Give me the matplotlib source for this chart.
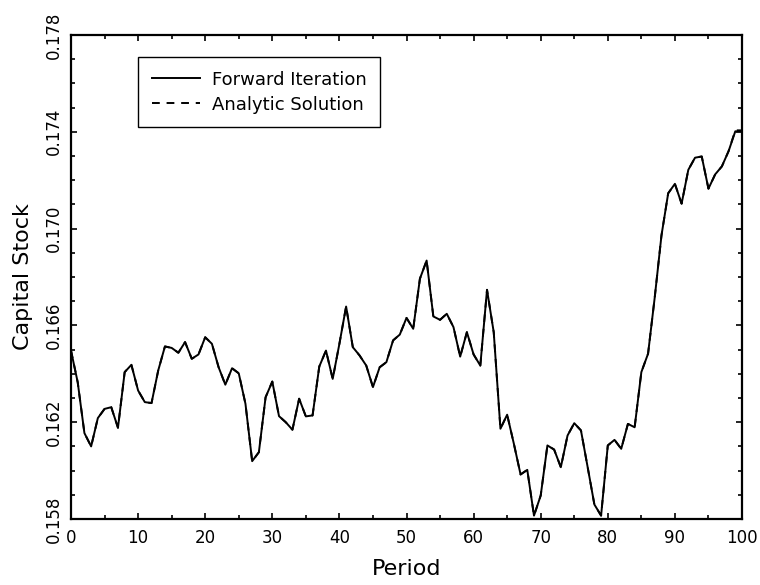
import numpy as np
import matplotlib
matplotlib.use("Agg")
import matplotlib.pyplot as plt
from matplotlib.ticker import MultipleLocator

# Capital stock path, periods 0..100
periods = np.arange(0, 101)
forward_iteration = [
    0.16496, 0.16365, 0.16155, 0.16100, 0.16217, 0.16255, 0.16262, 0.16177, 0.16407, 0.16437,
    0.16331, 0.16283, 0.16279, 0.16414, 0.16513, 0.16507, 0.16487, 0.16531, 0.16462, 0.16480,
    0.16551, 0.16524, 0.16427, 0.16355, 0.16423, 0.16402, 0.16276, 0.16039, 0.16076, 0.16303,
    0.16368, 0.16225, 0.16200, 0.16169, 0.16297, 0.16224, 0.16228, 0.16430, 0.16496, 0.16379,
    0.16524, 0.16678, 0.16510, 0.16476, 0.16434, 0.16345, 0.16427, 0.16448, 0.16538, 0.16562,
    0.16631, 0.16586, 0.16793, 0.16868, 0.16637, 0.16623, 0.16648, 0.16593, 0.16471, 0.16572,
    0.16480, 0.16434, 0.16747, 0.16572, 0.16173, 0.16231, 0.16111, 0.15984, 0.16003, 0.15814,
    0.15897, 0.16104, 0.16087, 0.16014, 0.16145, 0.16196, 0.16166, 0.16014, 0.15860, 0.15814,
    0.16104, 0.16127, 0.16090, 0.16193, 0.16179, 0.16407, 0.16483, 0.16717, 0.16972, 0.17146,
    0.17185, 0.17103, 0.17243, 0.17293, 0.17298, 0.17165, 0.17224, 0.17257, 0.17320, 0.17402,
    0.17402,
]
analytic_solution = [
    0.16496, 0.16365, 0.16155, 0.16100, 0.16217, 0.16255, 0.16262, 0.16177, 0.16407, 0.16437,
    0.16331, 0.16283, 0.16279, 0.16414, 0.16513, 0.16507, 0.16487, 0.16531, 0.16462, 0.16480,
    0.16551, 0.16524, 0.16427, 0.16355, 0.16423, 0.16402, 0.16276, 0.16039, 0.16076, 0.16303,
    0.16368, 0.16225, 0.16200, 0.16169, 0.16297, 0.16224, 0.16228, 0.16430, 0.16496, 0.16379,
    0.16524, 0.16678, 0.16510, 0.16476, 0.16434, 0.16345, 0.16427, 0.16448, 0.16538, 0.16562,
    0.16631, 0.16586, 0.16793, 0.16868, 0.16637, 0.16623, 0.16648, 0.16593, 0.16471, 0.16572,
    0.16480, 0.16434, 0.16747, 0.16572, 0.16173, 0.16231, 0.16111, 0.15984, 0.16003, 0.15814,
    0.15897, 0.16104, 0.16087, 0.16014, 0.16145, 0.16196, 0.16166, 0.16014, 0.15860, 0.15814,
    0.16104, 0.16127, 0.16090, 0.16193, 0.16179, 0.16407, 0.16483, 0.16717, 0.16972, 0.17146,
    0.17185, 0.17103, 0.17243, 0.17293, 0.17298, 0.17165, 0.17224, 0.17257, 0.17320, 0.17406,
    0.17406,
]

y_ticks = [0.158, 0.162, 0.166, 0.170, 0.174, 0.178]
y_tick_labels = ['0.158', '0.162', '0.166', '0.170', '0.174', '0.178']

plt.rcParams['font.family'] = ['DejaVu Sans']

fig = plt.figure(figsize=(7.6, 5.85), dpi=100)
ax = fig.add_axes([71 / 760, 1 - 519 / 585, 671 / 760, 484 / 585])

ax.plot(periods, forward_iteration, color='black', linewidth=1.4, label='Forward Iteration')
ax.plot(periods, analytic_solution, color='black', linewidth=1.4, dashes=(4, 3.5),
        label='Analytic Solution')

ax.set_xlim(0, 100)
ax.set_ylim(0.158, 0.178)
ax.xaxis.set_major_locator(MultipleLocator(10))
ax.xaxis.set_minor_locator(MultipleLocator(5))
ax.set_yticks(y_ticks)
ax.set_yticklabels(y_tick_labels, rotation=90, va='center')
ax.yaxis.set_minor_locator(MultipleLocator(0.001))

for s in ax.spines.values():
    s.set_linewidth(1.6)
ax.tick_params(which='both', direction='in', top=True, right=True, width=1.2, labelsize=12)
ax.tick_params(which='major', length=4.5)
ax.tick_params(which='minor', length=3)
ax.tick_params(axis='x', pad=7)
ax.tick_params(axis='y', pad=6)

ax.set_xlabel('Period', fontsize=16)
ax.set_ylabel('Capital Stock', fontsize=16)
ax.xaxis.set_label_coords(0.5, -0.083)
ax.yaxis.set_label_coords(-0.057, 0.5)

leg = ax.legend(loc='upper left', bbox_to_anchor=(138 / 760, 1 - 57 / 585),
                bbox_transform=fig.transFigure, borderaxespad=0, fontsize=13,
                handlelength=2.7, handletextpad=0.65, labelspacing=0.4, borderpad=0.75,
                fancybox=False, framealpha=1)
leg.get_frame().set_edgecolor('black')
leg.get_frame().set_linewidth(1.0)

fig.savefig('out.png', dpi=100)
